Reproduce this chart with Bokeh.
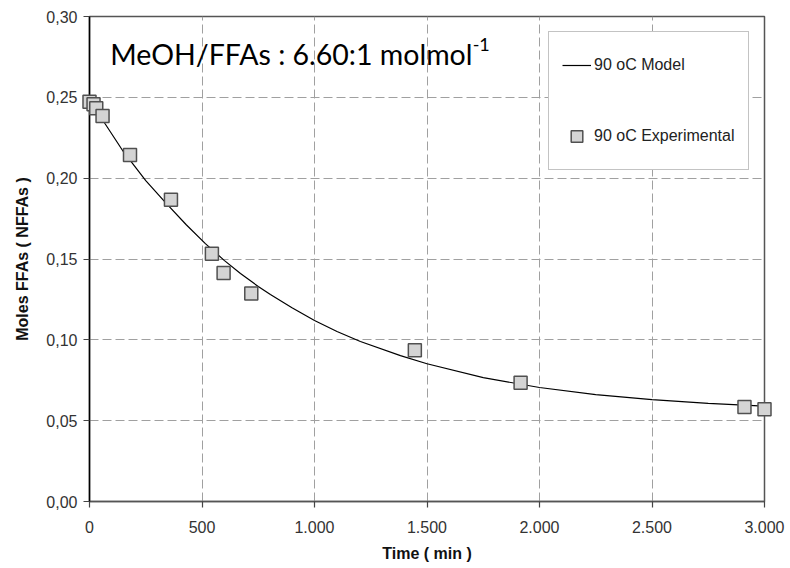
from bokeh.plotting import figure
from bokeh.models import Range1d, FixedTicker, Label, Legend, LegendItem
from bokeh.embed import file_html
from bokeh.resources import INLINE

# Experimental moles of free fatty acids over time (90 oC)
exp_time = [0, 18, 30, 58, 180, 362, 544, 596, 719, 1446, 1916, 2911, 3000]
exp_nffa = [0.2473, 0.2457, 0.2432, 0.2385, 0.2144, 0.1867, 0.1533, 0.1414,
            0.1286, 0.0935, 0.0735, 0.0585, 0.0570]

# Kinetic model curve (90 oC)
model_time = [0, 30, 70, 150, 250, 337, 430, 515, 600, 671, 750, 804, 900,
              1000, 1100, 1204, 1382, 1500, 1750, 2000, 2250, 2500, 2750, 3000]
model_nffa = [0.2495, 0.2425, 0.2335, 0.2165, 0.1985, 0.1850, 0.1712, 0.1595,
              0.1490, 0.1410, 0.1330, 0.1280, 0.1198, 0.1120, 0.1052, 0.0990,
              0.0902, 0.0852, 0.0766, 0.0705, 0.0661, 0.0630, 0.0607, 0.0590]

x_ticks = [0, 500, 1000, 1500, 2000, 2500, 3000]
x_tick_labels = ["0", "500", "1.000", "1.500", "2.000", "2.500", "3.000"]
y_ticks = [0.0, 0.05, 0.10, 0.15, 0.20, 0.25, 0.30]
y_tick_labels = ["0,00", "0,05", "0,10", "0,15", "0,20", "0,25", "0,30"]

FONT = "Liberation Sans"

p = figure(width=790, height=568, output_backend="svg", toolbar_location=None,
           x_range=Range1d(0, 3000), y_range=Range1d(0, 0.30),
           min_border_left=89, min_border_right=26,
           min_border_top=16, min_border_bottom=67)
p.background_fill_color = "white"
p.border_fill_color = "white"
p.outline_line_color = "#555555"
p.outline_line_width = 1.5

# axes
p.xaxis.ticker = FixedTicker(ticks=x_ticks)
p.yaxis.ticker = FixedTicker(ticks=y_ticks)
p.xaxis.major_label_overrides = {t: l for t, l in zip(x_ticks, x_tick_labels)}
p.yaxis.major_label_overrides = {t: l for t, l in zip(y_ticks, y_tick_labels)}
for ax in (p.xaxis, p.yaxis):
    ax.minor_tick_line_color = None
    ax.major_tick_in = 0
    ax.major_tick_out = 6
    ax.major_tick_line_color = "#444444"
    ax.major_tick_line_width = 1.2
    ax.major_label_text_font = FONT
    ax.major_label_text_font_size = "16px"
    ax.major_label_text_color = "#333333"
    ax.axis_label_text_font = FONT
    ax.axis_label_text_font_size = "16px"
    ax.axis_label_text_font_style = "bold"
    ax.axis_label_text_color = "#111111"
p.xaxis.axis_label = "Time ( min )"
p.yaxis.axis_label = "Moles FFAs ( NFFAs )"
p.xaxis.axis_line_color = "#555555"
p.xaxis.axis_line_width = 1.5
p.yaxis.axis_line_color = "black"
p.yaxis.axis_line_width = 1.5
p.xaxis.major_label_standoff = 13
p.yaxis.major_label_standoff = 6
p.xaxis.axis_label_standoff = 9
p.yaxis.axis_label_standoff = 12

# dashed grid
p.xgrid.ticker = FixedTicker(ticks=x_ticks)
p.ygrid.ticker = FixedTicker(ticks=y_ticks)
for g in (p.xgrid, p.ygrid):
    g.grid_line_color = "#a0a0a0"
    g.grid_line_dash = "9 4"
    g.grid_line_width = 1

model_r = p.line(model_time, model_nffa, line_color="black", line_width=1.2)
# overlay level keeps the edge squares from being cut at the frame
exp_r = p.scatter(exp_time, exp_nffa, marker="square", size=13,
                  fill_color="#d4d4d4", line_color="#505050", line_width=1.5,
                  level="overlay")

legend = Legend(items=[LegendItem(label="90 oC Model", renderers=[model_r]),
                       LegendItem(label="90 oC Experimental", renderers=[exp_r])],
                location=(459, 331))
legend.label_text_font = FONT
legend.label_text_font_size = "16px"
legend.label_text_color = "#222222"
legend.border_line_color = "#888888"
legend.border_line_width = 1
legend.background_fill_color = "white"
legend.background_fill_alpha = 1.0
legend.padding = 13
legend.spacing = 31
legend.margin = 0
legend.label_standoff = 3
legend.glyph_width = 29
legend.glyph_height = 40
legend.label_height = 40
p.add_layout(legend)

# ratio annotation
p.add_layout(Label(x=92, y=0.2770, text="MeOH/FFAs : 6.60:1 molmol",
                   text_font="Lato", text_font_size="28.5px", text_color="black",
                   text_baseline="alphabetic"))
p.add_layout(Label(x=1703, y=0.2825, text="-1",
                   text_font="Lato", text_font_size="18px", text_color="black",
                   text_baseline="alphabetic"))

open("out.html", "w").write(file_html(p, INLINE))
